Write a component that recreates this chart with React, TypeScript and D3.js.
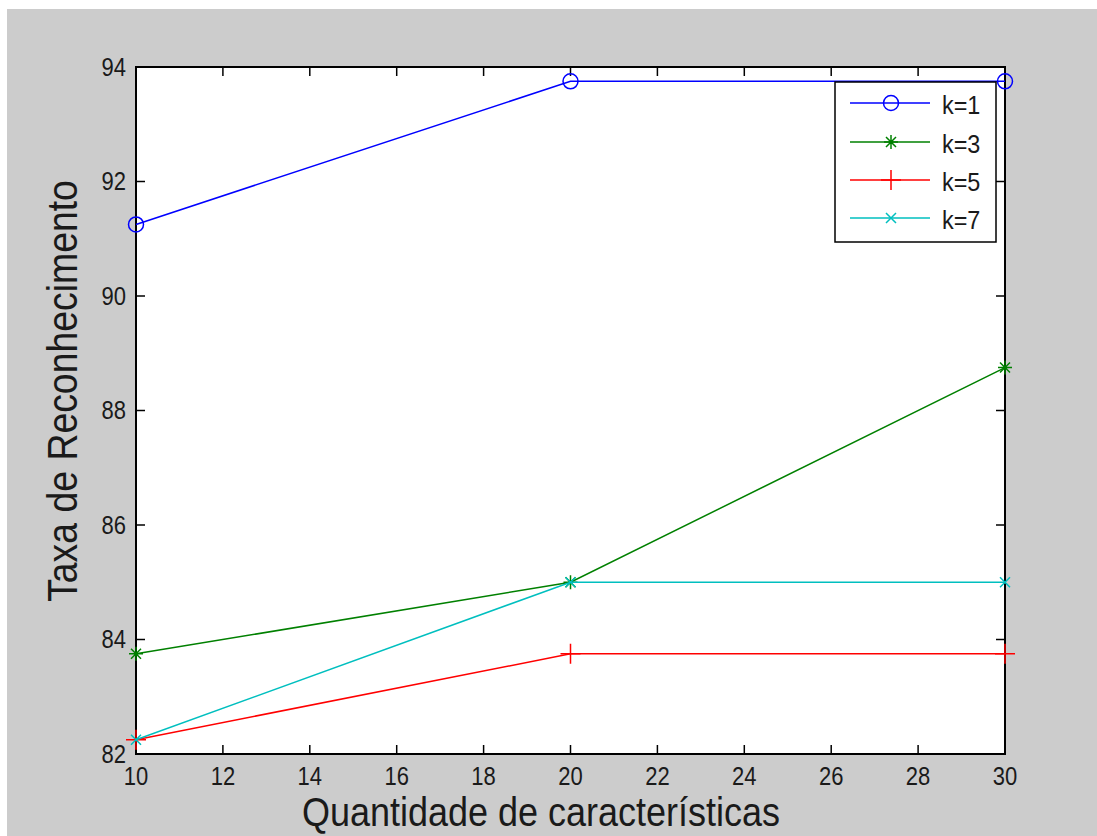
import React, { useEffect, useRef } from "react";
import * as d3 from "d3";

// quantidade de características
const features = [10, 20, 30];
const seriesNames = ["k=1", "k=3", "k=5", "k=7"];
const k1 = [91.25, 93.75, 93.75];
const k3 = [83.75, 85, 88.75];
const k5 = [82.25, 83.75, 83.75];
const k7 = [82.25, 85, 85];
const xTicks = [10, 12, 14, 16, 18, 20, 22, 24, 26, 28, 30];
const yTicks = [82, 84, 86, 88, 90, 92, 94];

const colors = ["#0000ff", "#008000", "#ff0000", "#00bfbf"];
const markers = ["circle", "star", "plus", "cross"];

const width = 1097;
const height = 836;
const left = 136;
const right = 1005;
const top = 67;
const bottom = 754;
const squeeze = 0.88;
const font = "'Liberation Sans', Arial, sans-serif";

function markerPath(kind: string, cx: number, cy: number) {
  const p = d3.path();
  if (kind === "star") {
    p.moveTo(cx - 7, cy); p.lineTo(cx + 7, cy);
    p.moveTo(cx, cy - 7); p.lineTo(cx, cy + 7);
    p.moveTo(cx - 5, cy - 5); p.lineTo(cx + 5, cy + 5);
    p.moveTo(cx - 5, cy + 5); p.lineTo(cx + 5, cy - 5);
  } else if (kind === "plus") {
    p.moveTo(cx - 10, cy); p.lineTo(cx + 10, cy);
    p.moveTo(cx, cy - 10); p.lineTo(cx, cy + 10);
  } else if (kind === "cross") {
    p.moveTo(cx - 5, cy - 5); p.lineTo(cx + 5, cy + 5);
    p.moveTo(cx - 5, cy + 5); p.lineTo(cx + 5, cy - 5);
  } else {
    p.moveTo(cx + 7.5, cy);
    p.arc(cx, cy, 7.5, 0, Math.PI * 2);
  }
  return p.toString();
}

export default function App() {
  const ref = useRef<SVGSVGElement>(null);

  useEffect(() => {
    if (!ref.current) return;
    const svg = d3.select(ref.current);
    svg.selectAll("*").remove();

    const x = d3.scaleLinear().domain([10, 30]).range([left, right]);
    const y = d3.scaleLinear().domain([82, 94]).range([bottom, top]);

    svg.append("rect").attr("width", width).attr("height", height).attr("fill", "#ffffff");
    svg.append("rect").attr("x", 7).attr("y", 9).attr("width", width - 7).attr("height", height - 9).attr("fill", "#cccccc");
    svg.append("rect")
      .attr("x", left).attr("y", top)
      .attr("width", right - left).attr("height", bottom - top)
      .attr("fill", "#ffffff");

    // ticks on all four sides, pointing inwards
    const g = svg.append("g").attr("stroke", "#000").attr("stroke-width", 1.5);
    xTicks.forEach((t) => {
      g.append("line").attr("x1", x(t)).attr("x2", x(t)).attr("y1", bottom).attr("y2", bottom - 9);
      g.append("line").attr("x1", x(t)).attr("x2", x(t)).attr("y1", top).attr("y2", top + 9);
    });
    yTicks.forEach((t) => {
      g.append("line").attr("x1", left).attr("x2", left + 9).attr("y1", y(t)).attr("y2", y(t));
      g.append("line").attr("x1", right).attr("x2", right - 9).attr("y1", y(t)).attr("y2", y(t));
    });
    svg.append("rect")
      .attr("x", left).attr("y", top)
      .attr("width", right - left).attr("height", bottom - top)
      .attr("fill", "none").attr("stroke", "#000").attr("stroke-width", 2);

    const text = svg.append("g").attr("font-family", font).attr("fill", "#1a1a1a");
    xTicks.forEach((t) => {
      text.append("text")
        .attr("transform", `translate(${x(t)},${785}) scale(${squeeze},1)`)
        .attr("text-anchor", "middle").attr("font-size", 25)
        .text(t);
    });
    yTicks.forEach((t) => {
      text.append("text")
        .attr("transform", `translate(${left - 10},${y(t) + 8.5}) scale(${squeeze},1)`)
        .attr("text-anchor", "end").attr("font-size", 25)
        .text(t);
    });
    text.append("text")
      .attr("transform", `translate(541,826) scale(0.9,1)`)
      .attr("text-anchor", "middle").attr("font-size", 40)
      .text("Quantidade de características");
    text.append("text")
      .attr("transform", `translate(77,391) rotate(-90) scale(0.89,1)`)
      .attr("text-anchor", "middle").attr("font-size", 42)
      .text("Taxa de Reconhecimento");

    const series = [k1, k3, k5, k7];
    const line = d3.line<number>().x((_, i) => x(features[i])).y((d) => y(d));
    series.forEach((vals, s) => {
      const sg = svg.append("g").attr("stroke", colors[s]).attr("fill", "none").attr("stroke-width", 1.5);
      sg.append("path").attr("d", line(vals));
      vals.forEach((v, i) => {
        sg.append("path").attr("d", markerPath(markers[s], x(features[i]), y(v)));
      });
    });

    // legend
    const lg = svg.append("g");
    lg.append("rect")
      .attr("x", 835).attr("y", 82).attr("width", 161).attr("height", 160)
      .attr("fill", "#ffffff").attr("stroke", "#000").attr("stroke-width", 1.5);
    const rowY = [103, 142, 180, 218];
    seriesNames.forEach((name, s) => {
      const ry = rowY[s];
      lg.append("line").attr("x1", 850).attr("x2", 930).attr("y1", ry).attr("y2", ry)
        .attr("stroke", colors[s]).attr("stroke-width", 1.5);
      lg.append("path").attr("d", markerPath(markers[s], 891, ry))
        .attr("stroke", colors[s]).attr("fill", "none").attr("stroke-width", 1.5);
      lg.append("text")
        .attr("transform", `translate(942,${ry + 11}) scale(0.9,1)`)
        .attr("font-family", font).attr("font-size", 26).attr("fill", "#1a1a1a")
        .text(name);
    });
  }, []);

  return (
    <svg
      ref={ref}
      width={width}
      height={height}
      style={{ position: "absolute", left: 0, top: 0, display: "block" }}
    />
  );
}
